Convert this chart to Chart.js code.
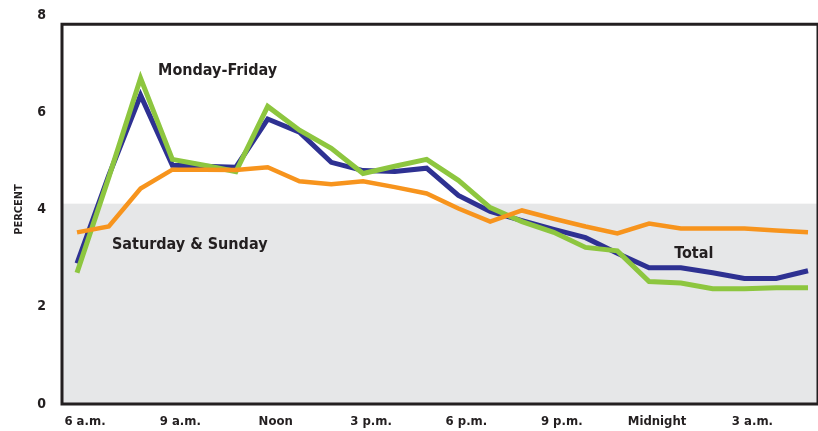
<!DOCTYPE html>
<html><head><meta charset="utf-8">
<script src="https://cdn.jsdelivr.net/npm/chart.js@4.4.0/dist/chart.umd.min.js"></script>
<style>html,body{margin:0;padding:0;background:#fff;} canvas{display:block;}</style>
</head><body>
<canvas id="c" width="818" height="431"></canvas>
<script>
// ---- data (hourly, 6 a.m. through 5 a.m.) ----
const HOURS = ['6 a.m.','7 a.m.','8 a.m.','9 a.m.','10 a.m.','11 a.m.','Noon','1 p.m.','2 p.m.','3 p.m.','4 p.m.','5 p.m.',
               '6 p.m.','7 p.m.','8 p.m.','9 p.m.','10 p.m.','11 p.m.','Midnight','1 a.m.','2 a.m.','3 a.m.','4 a.m.','5 a.m.'];
const TICK_LABELS = ['6 a.m.','9 a.m.','Noon','3 p.m.','6 p.m.','9 p.m.','Midnight','3 a.m.'];
const Y_TICKS = [0, 2, 4, 6, 8];
const TOTAL   = [2.89,4.70,6.35,4.91,4.89,4.87,5.86,5.59,4.97,4.80,4.78,4.85,4.29,3.96,3.77,3.59,3.42,3.10,2.80,2.80,2.70,2.58,2.58,2.74];
const WEEKDAY = [2.70,4.66,6.70,5.03,4.91,4.78,6.12,5.63,5.26,4.74,4.89,5.03,4.60,4.04,3.75,3.53,3.22,3.15,2.52,2.49,2.37,2.37,2.39,2.39];
const WEEKEND = [3.53,3.65,4.43,4.82,4.82,4.81,4.87,4.58,4.52,4.58,4.46,4.33,4.02,3.75,3.98,3.81,3.65,3.51,3.71,3.61,3.61,3.61,3.57,3.53];
const SERIES_NAMES = ['Total','Monday-Friday','Saturday & Sunday'];

// ---- style / layout constants ----
const INK = '#231f20';
const FONT = "'Liberation Sans Narrow','DejaVu Sans Condensed','Arial Narrow',Arial,sans-serif";
const SHADE_TOP = 4.12;
const FRAME_TOP = 7.81;
const X_MIN = -0.472, X_MAX = 23.283;
const LABEL_ANCHORS = [
  {text: 'Monday-Friday',     hour: 2.55,  value: 6.77},
  {text: 'Saturday & Sunday', hour: 1.10,  value: 3.19},
  {text: 'Total',             hour: 18.79, value: 3.00}
];

const pts = arr => arr.map((v, i) => ({x: i, y: v}));

const framePlugin = {
  id: 'frame',
  beforeDraw(chart) {
    const {ctx, chartArea: a, scales: {y}} = chart;
    const yt = y.getPixelForValue(SHADE_TOP), yb = y.getPixelForValue(0);
    ctx.save();
    ctx.fillStyle = '#e6e7e8';
    ctx.fillRect(a.left, yt, a.right + 1 - a.left, yb - yt);
    ctx.restore();
  },
  afterDatasetsDraw(chart) {
    const {ctx, chartArea: a, scales: {x, y}} = chart;
    const top = y.getPixelForValue(FRAME_TOP), yb = y.getPixelForValue(0);
    ctx.save();
    ctx.strokeStyle = INK;
    ctx.lineWidth = 3;
    ctx.lineCap = 'butt';
    ctx.beginPath();
    ctx.moveTo(a.left, top - 1.5); ctx.lineTo(a.left, yb + 1.5);
    ctx.moveTo(a.left - 1.5, top); ctx.lineTo(a.right + 1.5, top);
    ctx.moveTo(a.left - 1.5, yb); ctx.lineTo(a.right + 1.5, yb);
    ctx.stroke();
    ctx.lineWidth = 2;
    ctx.beginPath();
    ctx.moveTo(a.right + 0.5, top); ctx.lineTo(a.right + 0.5, yb);
    ctx.stroke();
    ctx.fillStyle = INK;
    ctx.font = 'bold 16px ' + FONT;
    ctx.textAlign = 'left';
    ctx.textBaseline = 'alphabetic';
    LABEL_ANCHORS.forEach(l => ctx.fillText(l.text, x.getPixelForValue(l.hour), y.getPixelForValue(l.value)));
    ctx.restore();
  }
};

Chart.defaults.font.family = FONT;
Chart.defaults.color = INK;

new Chart(document.getElementById('c'), {
  type: 'line',
  data: {
    datasets: [
      {label: SERIES_NAMES[0], data: pts(TOTAL),   borderColor: '#2e3192', borderWidth: 5, order: 2},
      {label: SERIES_NAMES[1], data: pts(WEEKDAY), borderColor: '#8dc63f', borderWidth: 5, order: 1},
      {label: SERIES_NAMES[2], data: pts(WEEKEND), borderColor: '#f7941d', borderWidth: 4.5, order: 0}
    ]
  },
  options: {
    responsive: false,
    animation: false,
    events: [],
    layout: {padding: {top: 15, right: 1, left: 0, bottom: 0}},
    elements: {
      point: {radius: 0},
      line: {tension: 0, borderJoinStyle: 'miter', borderCapStyle: 'butt', fill: false}
    },
    plugins: {legend: {display: false}, tooltip: {enabled: false}},
    scales: {
      x: {
        type: 'linear', min: X_MIN, max: X_MAX,
        afterBuildTicks: ax => { ax.ticks = TICK_LABELS.map(t => ({value: HOURS.indexOf(t)})); },
        afterFit: s => { s.height = 27; s.paddingLeft = 0; s.paddingRight = 0; },
        grid: {display: false, drawTicks: false},
        border: {display: false},
        ticks: {
          callback: v => HOURS[v],
          autoSkip: false, maxRotation: 0, labelOffset: 8, padding: 10,
          color: INK, font: {size: 13, weight: 'bold'}
        }
      },
      y: {
        min: 0, max: 8,
        afterBuildTicks: ax => { ax.ticks = Y_TICKS.map(v => ({value: v})); },
        afterFit: s => { s.width = 62; s.paddingTop = 0; s.paddingBottom = 0; },
        grid: {display: false, drawTicks: false},
        border: {display: false},
        ticks: {padding: 16, color: INK, font: {size: 14, weight: 'bold'}},
        title: {display: true, text: 'PERCENT', color: INK, padding: {top: 13, bottom: 0}, font: {size: 11, weight: 'bold'}}
      }
    }
  },
  plugins: [framePlugin]
});
</script>
</body></html>
